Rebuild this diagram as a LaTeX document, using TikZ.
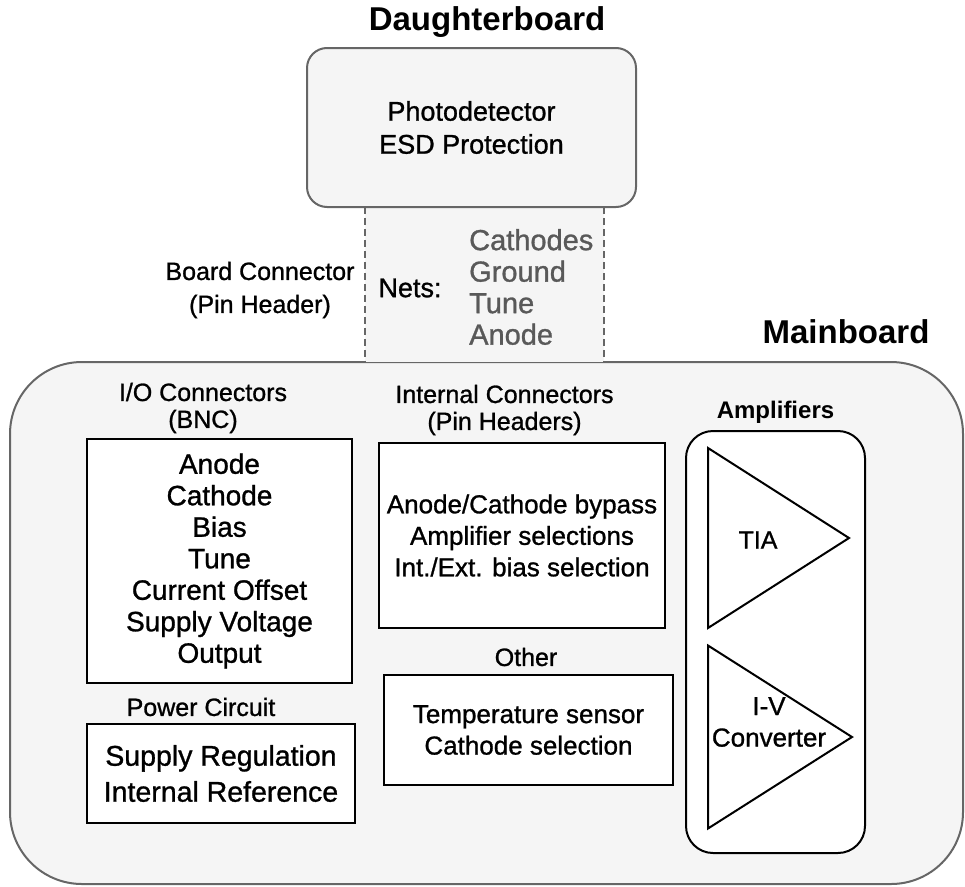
\documentclass[tikz,border=0pt]{standalone}
\usepackage{fontspec}
\setmainfont{Liberation Sans}
\newfontfamily\heavy{Liberation Sans}[FakeBold=1.0]
\usepackage{xcolor}
\usepackage{tikz}
\usetikzlibrary{shapes.geometric, positioning, calc, backgrounds}
\newcommand{\fsz}[2]{\fontsize{#1}{#2}\selectfont}
\definecolor{boardfill}{HTML}{F5F5F5}
\definecolor{boardline}{HTML}{666666}
\definecolor{netgray}{HTML}{595959}
\tikzstyle{board} = [draw=boardline, fill=boardfill, line width=2pt, rectangle, inner sep=0pt]
\tikzstyle{part} = [draw=black, fill=white, line width=2pt, rectangle, inner sep=0pt, align=center, font=\heavy\fsz{26}{31.5}]
\tikzstyle{title} = [font=\fsz{33}{36}\bfseries, inner sep=0pt]
\tikzstyle{caption} = [align=center, inner sep=0pt, font=\heavy\fsz{25}{27}]
\tikzstyle{amp} = [draw=black, fill=white, line width=2pt, isosceles triangle, isosceles triangle stretches, inner sep=0pt, outer sep=0pt, anchor=west, minimum width=180pt, minimum height=141pt]
\tikzstyle{pinline} = [draw=boardline, line width=2pt, dash pattern=on 7pt off 4pt]

\begin{document}
\begin{tikzpicture}[x=1pt, y=-1pt]
    \useasboundingbox (0,0) rectangle (965,886);
    % Daughterboard
    \node (db_title) [title] at (487,22) {Daughterboard};
    \node (pins) [fill=boardfill, inner sep=0pt, minimum width=239pt, minimum height=155pt] at (484.5,284.5) {};
    \node (db) [board, rounded corners=20pt, minimum width=329pt, minimum height=159pt, align=center, font=\heavy\fsz{27}{33}] at (471.5,127.5) {Photodetector\\ESD Protection};
    \draw [pinline] (pins.north west) -- (pins.south west);
    \draw [pinline] (pins.north east) -- (pins.south east);
    \node (pin_lbl) [caption, font=\heavy\fsz{25}{33}] at (260,290) {Board Connector\\(Pin Header)};
    \node (nets) [inner sep=0pt, font=\heavy\fsz{27}{31.5}] at (410,288) {Nets:};
    \node (net_list) [anchor=west, align=left, inner sep=0pt, text=netgray, font=\heavy\fsz{29}{31.5}] at (469,287) {Cathodes\\Ground\\Tune\\Anode};

    % Mainboard
    \node (mb_title) [title] at (846,332) {Mainboard};
    \begin{scope}[on background layer]
        \node (mb) [board, rounded corners=72pt, minimum width=953pt, minimum height=522pt] at (486.5,623) {};
    \end{scope}

    \node (io_lbl) [caption] at (203,408) {I/O Connectors\\(BNC)};
    \node (io) [part, font=\heavy\fsz{28}{31.5}, minimum width=265pt, minimum height=244pt] at (219.5,561) {Anode\\Cathode\\Bias\\Tune\\Current Offset\\Supply Voltage\\Output};

    \node (pwr_lbl) [caption] at (201,707) {Power Circuit};
    \node (pwr) [part, font=\heavy\fsz{28.5}{36}, minimum width=268pt, minimum height=99pt] at (221,773.5) {Supply Regulation\\Internal Reference};

    \node (int_lbl) [caption] at (504.5,410) {Internal Connectors\\(Pin Headers)};
    \node (int) [part, minimum width=286pt, minimum height=185pt] at (522,535.5) {Anode/Cathode bypass\\Amplifier selections\\Int./Ext. bias selection};

    \node (oth_lbl) [caption] at (526,657) {Other};
    \node (oth) [part, minimum width=289pt, minimum height=110pt] at (528.5,730) {Temperature sensor\\Cathode selection};

    % Amplifiers
    \node (amp_lbl) [inner sep=0pt, font=\fsz{24}{27}\bfseries] at (775.5,412) {Amplifiers};
    \node (amps) [draw=black, fill=white, line width=2pt, rounded corners=27pt, minimum width=179pt, minimum height=422pt] at (775.5,642) {};
    \node (tia) [amp] at (708,538) {};
    \node (iv) [amp, minimum width=183pt, minimum height=144pt] at (708,737) {};
    \node (tia_txt) [inner sep=0pt, font=\heavy\fsz{25}{31.5}] at (758,540) {TIA};
    \node (iv_txt) [inner sep=0pt, align=center, font=\heavy\fsz{26}{31.5}] at (769,722) {I-V\\Converter};
\end{tikzpicture}
\end{document}
